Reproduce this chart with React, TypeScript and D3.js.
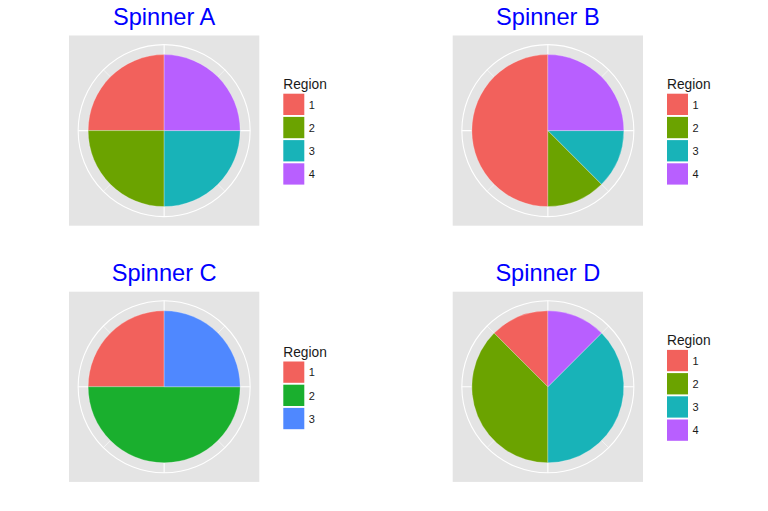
import React from "react";
import * as d3 from "d3";

const titles = ["Spinner A", "Spinner B", "Spinner C", "Spinner D"];
const regionsA = ["1", "2", "3", "4"];
const valuesA = [1, 1, 1, 1];
const regionsB = ["1", "2", "3", "4"];
const valuesB = [4, 1, 1, 2];
const regionsC = ["1", "2", "3"];
const valuesC = [1, 2, 1];
const regionsD = ["1", "2", "3", "4"];
const valuesD = [1, 3, 3, 1];
const legendTitle = "Region";

const colors4 = ["#F2615C", "#6BA300", "#18B3B8", "#B85FFF"];
const colors3 = ["#F2615C", "#1AAF2E", "#4F88FF"];

const W = 768;
const H = 511;
const FONT = "'Liberation Sans', Arial, Helvetica, sans-serif";

const PANEL_X0 = 69;
const PANEL_Y0 = 35.5;
const PANEL_W = 190.3;
const PANEL_H = 190.2;
const DX = 383.7;
const DY = 256.2;
const R_PIE = 76;
const R_OUT = 86;
const KEY_STEP = 23.2;

type Spec = { title: string; regions: string[]; values: number[]; colors: string[] };

const specs: Spec[] = [
  { title: titles[0], regions: regionsA, values: valuesA, colors: colors4 },
  { title: titles[1], regions: regionsB, values: valuesB, colors: colors4 },
  { title: titles[2], regions: regionsC, values: valuesC, colors: colors3 },
  { title: titles[3], regions: regionsD, values: valuesD, colors: colors4 },
];

function Panel({ spec, ox, oy }: { spec: Spec; ox: number; oy: number }) {
  const px = PANEL_X0 + ox;
  const py = PANEL_Y0 + oy;
  const cx = px + PANEL_W / 2;
  const cy = py + PANEL_H / 2;
  const data = spec.regions.map((r, i) => ({ region: r, value: spec.values[i], color: spec.colors[i], idx: i }));
  // clockwise from 12 o'clock: last region first (ggplot stacking)
  const pie = d3
    .pie<any>()
    .value((d: any) => d.value)
    .sort((a: any, b: any) => b.idx - a.idx);
  const arcs = pie(data);
  const arc = d3.arc<any>().innerRadius(0).outerRadius(R_PIE);
  const angle = d3.scaleLinear().domain([0, 8]).range([0, 2 * Math.PI]);
  const ticks = d3.range(0, 8);

  const n = spec.regions.length;
  const legendShift = ((4 - n) * KEY_STEP) / 2;
  const lx = px + 214.3;
  const ly = oy + 92.7 + legendShift;

  return (
    <g>
      <text x={cx} y={oy + 25} textAnchor="middle" fontFamily={FONT} fontSize={23.6} fill="#0000FF">
        {spec.title}
      </text>
      <rect x={px} y={py} width={PANEL_W} height={PANEL_H} fill="#E4E4E4" />
      {ticks.map((t) => {
        const a = angle(t);
        const major = t % 2 === 0;
        return (
          <line
            key={t}
            x1={cx}
            y1={cy}
            x2={cx + R_OUT * Math.sin(a)}
            y2={cy - R_OUT * Math.cos(a)}
            stroke="#FFFFFF"
            strokeWidth={major ? 1.1 : 0.55}
          />
        );
      })}
      <circle cx={cx} cy={cy} r={R_OUT} fill="none" stroke="#FFFFFF" strokeWidth={1.1} />
      <g transform={`translate(${cx},${cy})`}>
        {arcs.map((a: any) => (
          <path key={a.data.region} d={arc(a) || ""} fill={a.data.color} stroke="#FFFFFF" strokeWidth={0.25} />
        ))}
      </g>
      <text x={lx} y={ly - 4} fontFamily={FONT} fontSize={13.75} fill="#1A1A1A">
        {legendTitle}
      </text>
      {data.map((d, i) => (
        <g key={d.region}>
          <rect x={lx} y={ly + i * KEY_STEP + 1} width={21} height={21.3} fill={d.color} />
          <text
            x={lx + 25.5}
            y={ly + i * KEY_STEP + 1 + 10.8}
            dominantBaseline="central"
            fontFamily={FONT}
            fontSize={11}
            fill="#1A1A1A"
          >
            {d.region}
          </text>
        </g>
      ))}
    </g>
  );
}

export default function App() {
  return (
    <svg
      width={W}
      height={H}
      viewBox={`0 0 ${W} ${H}`}
      style={{ position: "absolute", left: 0, top: 0, background: "#FFFFFF" }}
    >
      <rect x={0} y={0} width={W} height={H} fill="#FFFFFF" />
      {specs.map((s, i) => (
        <Panel key={s.title} spec={s} ox={(i % 2) * DX} oy={Math.floor(i / 2) * DY} />
      ))}
    </svg>
  );
}
